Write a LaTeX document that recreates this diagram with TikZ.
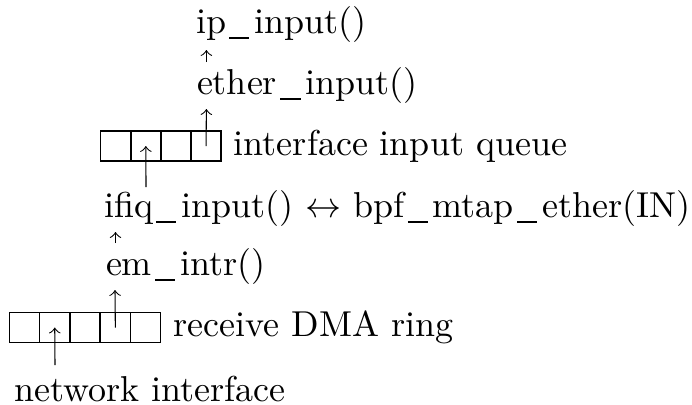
\documentclass[tikz,border=0pt]{standalone}
\usetikzlibrary{arrows.meta}
\newcommand\us{\kern0.9pt\rule[-1.6pt]{5.6pt}{0.6pt}\kern1.4pt}
\begin{document}
\begin{tikzpicture}[x=0.27778pt,y=-0.27778pt,
  lbl/.style={anchor=base west,inner sep=0pt,outer sep=0pt},
  cell/.style={draw,line width=0.4pt,minimum width=8.4pt,minimum height=8.4pt,inner sep=0pt,outer sep=0pt},
  arr/.style={-to,line width=0.3pt}]
\useasboundingbox (0,0) rectangle (692,404);
% text lines
\node[lbl] (ip) at (196,33) {ip\us input()};
\node[lbl] (ether) at (197,94) {ether\us input()};
\node[lbl] (ifiq) at (104,217) {ifiq\us input() $\leftrightarrow$ bpf\us mtap\us ether(IN)};
\node[lbl] (em) at (106,275) {em\us intr()};
\node[lbl] (net) at (14,401) {network interface};
% interface input queue
\foreach \i in {1,...,4} \node[cell] (q\i) at ({100.7+30.1*(\i-0.5)},146) {};
\node[right] (qlbl) at (q4.east) {interface input queue};
% receive DMA ring
\foreach \i in {1,...,5} \node[cell] (r\i) at ({9.3+30.3*(\i-0.5)},327.5) {};
\node[right] (rlbl) at (r5.east) {receive DMA ring};
% connector end points
\coordinate (ifiqtop) at (146,187);
\coordinate (etherbot) at (206.4,109);
\coordinate (ethertop) at (206.4,62);
\coordinate (ipbot) at (206.4,50);
\coordinate (nettop) at (55,365);
\coordinate (embot) at (115,290);
\coordinate (emtop) at (115.5,243);
\coordinate (ifiqbot) at (115.5,232);
% arrows
\draw[arr] (ifiqtop) -- (q2.center);
\draw[arr] (q4.center) -- (etherbot);
\draw[arr] (ethertop) -- (ipbot);
\draw[arr] (nettop) -- (r2.center);
\draw[arr] (r4.center) -- (embot);
\draw[arr] (emtop) -- (ifiqbot);
\end{tikzpicture}
\end{document}
